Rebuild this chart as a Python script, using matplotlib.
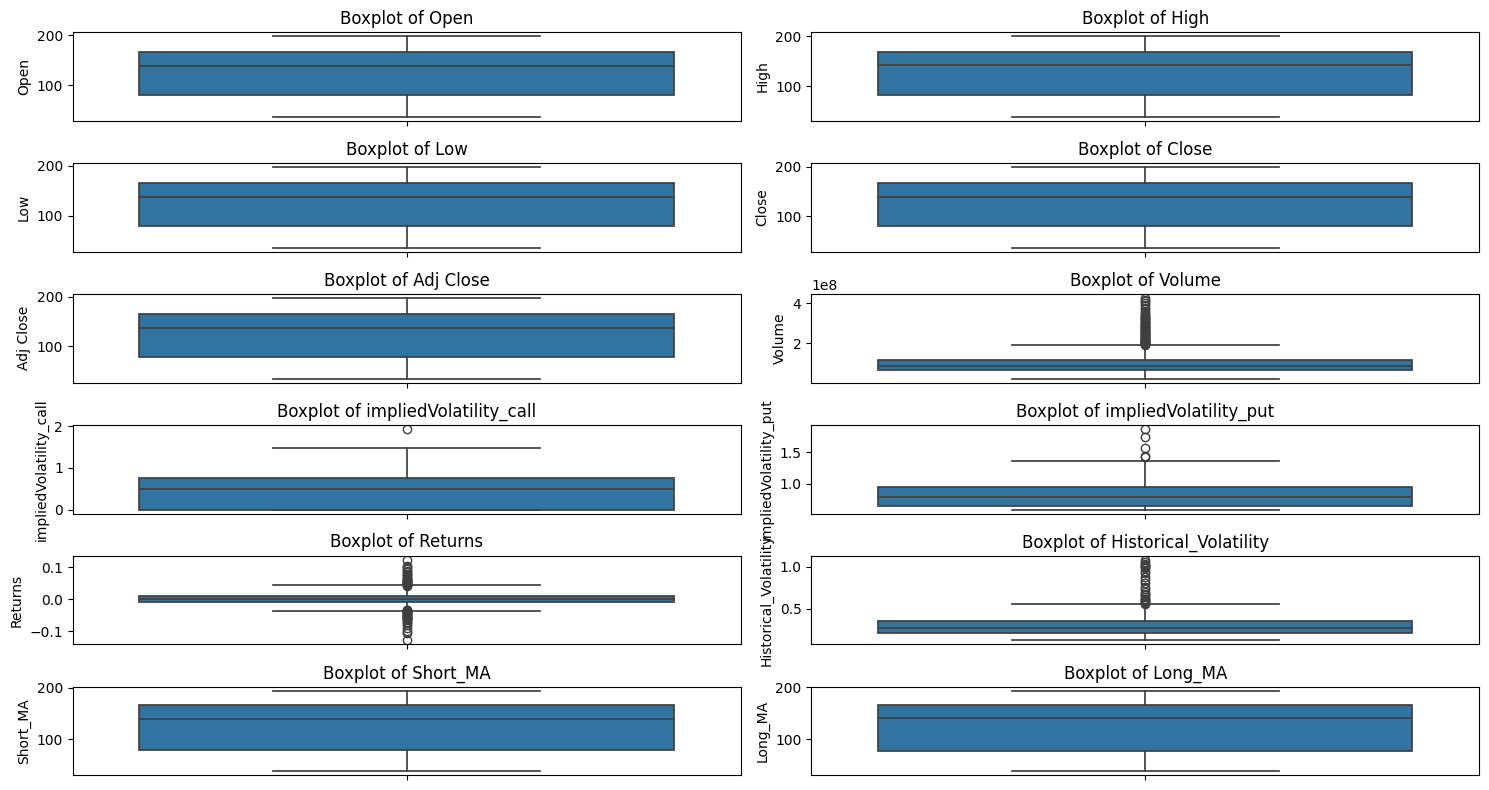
import matplotlib
matplotlib.use("Agg")
import matplotlib.pyplot as plt

columns = ["Open", "High", "Low", "Close", "Adj Close", "Volume",
           "impliedVolatility_call", "impliedVolatility_put", "Returns",
           "Historical_Volatility", "Short_MA", "Long_MA"]

# five-number summaries: whislo, q1, median, q3, whishi
whislo = [37, 38.5, 37, 36, 35, 0.24e8, 0.0, 0.596, -0.037, 0.123, 37.5, 38]
q1 = [81, 82, 80, 80, 78, 0.65e8, 0.0, 0.649, -0.008, 0.206, 79, 77]
med = [139, 142.5, 138, 139, 137, 0.85e8, 0.49, 0.797, 0.001, 0.266, 139, 141]
q3 = [167, 168.5, 166, 167.5, 166, 1.18e8, 0.755, 0.957, 0.012, 0.349, 167, 166]
whishi = [198, 200.5, 197, 199, 198, 1.92e8, 1.49, 1.356, 0.044, 0.552, 194, 193.5]

volume_fliers = [1.94e8, 1.96e8, 1.98e8, 2.0e8, 2.02e8, 2.04e8, 2.06e8, 2.08e8,
                 2.1e8, 2.12e8, 2.15e8, 2.18e8, 2.2e8, 2.23e8, 2.26e8, 2.3e8,
                 2.33e8, 2.36e8, 2.4e8, 2.43e8, 2.46e8, 2.5e8, 2.53e8, 2.56e8,
                 2.6e8, 2.64e8, 2.68e8, 2.72e8, 2.76e8, 2.8e8, 2.84e8, 2.88e8,
                 2.92e8, 2.96e8, 3.0e8, 3.04e8, 3.08e8, 3.12e8, 3.16e8, 3.2e8,
                 3.25e8, 3.3e8, 3.35e8, 3.4e8, 3.46e8, 3.55e8, 3.7e8, 3.78e8,
                 3.9e8, 4.02e8, 4.1e8, 4.18e8, 4.27e8]
ivc_fliers = [1.94]
ivp_fliers = [1.42, 1.44, 1.56, 1.74, 1.87]
returns_fliers = [0.043, 0.045, 0.047, 0.049, 0.051, 0.053, 0.055, 0.057, 0.059,
                  0.061, 0.063, 0.065, 0.068, 0.072, 0.076, 0.08, 0.085, 0.09,
                  0.095, 0.1, 0.105, 0.124,
                  -0.033, -0.035, -0.037, -0.039, -0.041, -0.043, -0.045,
                  -0.047, -0.049, -0.051, -0.053, -0.055, -0.057, -0.059,
                  -0.061, -0.063, -0.066, -0.07, -0.075, -0.08, -0.09, -0.1,
                  -0.106, -0.129]
hv_fliers = [0.56, 0.57, 0.58, 0.59, 0.6, 0.61, 0.62, 0.64, 0.66, 0.68, 0.7,
             0.73, 0.76, 0.8, 0.84, 0.88, 0.92, 0.95, 0.98, 1.0, 1.01, 1.02,
             1.03, 1.05, 1.08]

fliers = [[], [], [], [], [], volume_fliers, ivc_fliers, ivp_fliers,
          returns_fliers, hv_fliers, [], []]

box_color = "#3274a1"
line_color = "#3f3f3f"
lw = 1.25

fig, axes = plt.subplots(6, 2, figsize=(14.89, 7.9), dpi=100)
for i, col in enumerate(columns):
    ax = axes.flat[i]
    stats = [dict(whislo=whislo[i], q1=q1[i], med=med[i], q3=q3[i],
                  whishi=whishi[i], fliers=fliers[i], label="")]
    ax.bxp(stats, positions=[0], widths=0.8, capwidths=0.4, patch_artist=True,
           boxprops=dict(facecolor=box_color, edgecolor=line_color, linewidth=lw),
           medianprops=dict(color=line_color, linewidth=lw),
           whiskerprops=dict(color=line_color, linewidth=lw),
           capprops=dict(color=line_color, linewidth=lw),
           flierprops=dict(marker="o", markerfacecolor="none",
                           markeredgecolor=line_color, markersize=6,
                           markeredgewidth=1.0, linestyle="none"))
    ax.set_xlim(-0.5, 0.5)
    ax.set_xticks([0])
    ax.set_xticklabels([""])
    ax.set_ylabel(col)
    ax.set_title(f"Boxplot of {col}")

plt.tight_layout(pad=0.7, h_pad=1.08, w_pad=1.08)
plt.savefig("out.png", dpi=100)
